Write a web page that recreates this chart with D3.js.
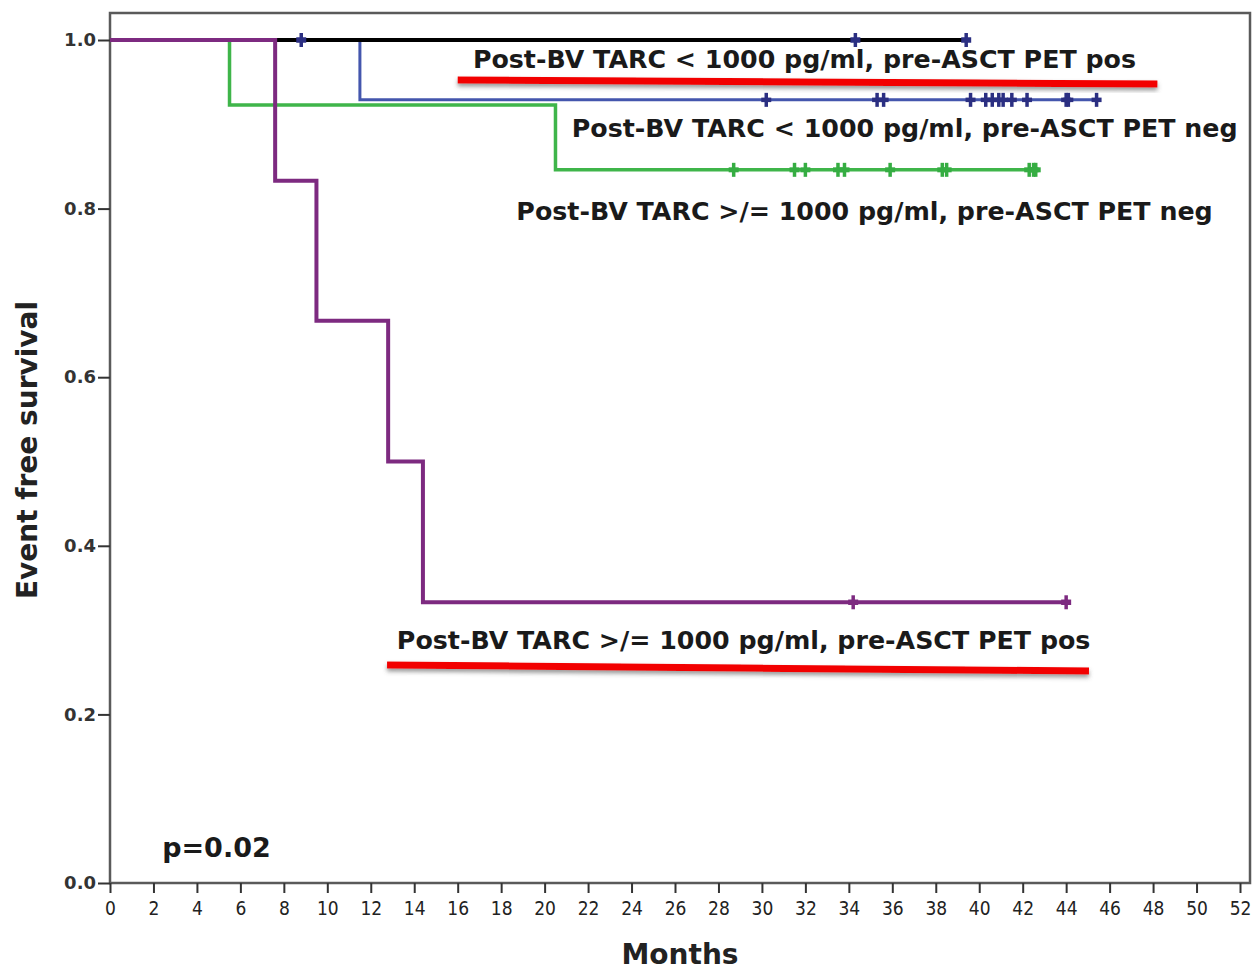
<!DOCTYPE html>
<html>
<head>
<meta charset="utf-8">
<script src="https://cdn.jsdelivr.net/npm/d3@7"></script>
<style>
  body { margin: 0; background: #fff; }
</style>
</head>
<body>
<div id="chart"></div>
<script>
// tick values
const xTickValues = [0, 2, 4, 6, 8, 10, 12, 14, 16, 18, 20, 22, 24, 26, 28, 30, 32, 34, 36, 38, 40, 42, 44, 46, 48, 50, 52];
const yTickValues = [0.0, 0.2, 0.4, 0.6, 0.8, 1.0];

// group labels
const groupLabels = [
  "Post-BV TARC < 1000 pg/ml, pre-ASCT PET pos",
  "Post-BV TARC < 1000 pg/ml, pre-ASCT PET neg",
  "Post-BV TARC >/= 1000 pg/ml, pre-ASCT PET neg",
  "Post-BV TARC >/= 1000 pg/ml, pre-ASCT PET pos"
];

// Kaplan-Meier steps (months, survival) and censored times
const lowPosTimes = [0];
const lowPosSurv = [1.0];
const lowPosCensor = [8.8, 34.3, 39.4];

const lowNegTimes = [0, 11.5];
const lowNegSurv = [1.0, 0.929];
const lowNegCensor = [30.2, 35.3, 35.6, 39.6, 40.3, 40.6, 40.9, 41.1, 41.5, 42.2, 44.0, 44.1, 45.4];

const highNegTimes = [0, 5.5, 20.5];
const highNegSurv = [1.0, 0.923, 0.846];
const highNegCensor = [28.7, 31.5, 32.0, 33.5, 33.8, 35.9, 38.3, 38.5, 42.3, 42.5, 42.6];

const highPosTimes = [0, 7.6, 9.5, 12.8, 14.4];
const highPosSurv = [1.0, 0.833, 0.667, 0.5, 0.333];
const highPosCensor = [34.2, 44.0];

// annotation anchors in data units (months, survival)
const labelAnchors = [[16.7, 0.967], [21.25, 0.885], [18.7, 0.786], [13.2, 0.277]];
const underlines = [[[16.0, 0.9526], [48.2, 0.9478]], [[12.75, 0.2586], [45.05, 0.2515]]];
const pValueText = "p=0.02";
const pValueAnchor = [2.4, 0.031];

let width = 1253, height = 970;
let margin = { top: 13, right: 3, bottom: 87, left: 110 };

let svg = d3.select("#chart")
    .append("svg")
    .attr("width", width)
    .attr("height", height)
    .style("font-family", "'DejaVu Sans', sans-serif");

let defs = svg.append("defs");
let shadow = defs.append("filter").attr("id", "shadow")
    .attr("x", "-5%").attr("y", "-200%").attr("width", "110%").attr("height", "500%");
shadow.append("feDropShadow")
    .attr("dx", 0).attr("dy", 3).attr("stdDeviation", 2)
    .attr("flood-color", "#555").attr("flood-opacity", 0.6);

let x = d3.scaleLinear().domain([0, 52]).range([110, 1240]);
let y = d3.scaleLinear().domain([0, 1]).range([883, 40]);

// frame
svg.append("rect")
    .attr("x", margin.left)
    .attr("y", margin.top)
    .attr("width", 1250 - margin.left)
    .attr("height", y(0) - margin.top)
    .attr("fill", "none")
    .attr("stroke", "#5a5a5a")
    .attr("stroke-width", 2.5);

// y axis
let yAxis = svg.append("g")
    .attr("transform", "translate(" + margin.left + ",0)")
    .call(d3.axisLeft(y).tickValues(yTickValues).tickFormat(d3.format(".1f")).tickSize(12).tickPadding(2));
yAxis.attr("font-size", 18).attr("font-family", "'DejaVu Sans', sans-serif").attr("font-weight", "bold");
yAxis.select(".domain").remove();
yAxis.selectAll("line").attr("stroke", "#333").attr("stroke-width", 2);
yAxis.selectAll("text")
    .attr("font-size", 18)
    .attr("font-weight", "bold")
    .attr("fill", "#333");

// x axis
let xAxis = svg.append("g")
    .attr("transform", "translate(0," + y(0) + ")")
    .call(d3.axisBottom(x).tickValues(xTickValues).tickSize(10).tickPadding(9));
xAxis.attr("font-size", 19).attr("font-family", "'DejaVu Sans Condensed', 'DejaVu Sans', sans-serif");
xAxis.select(".domain").remove();
xAxis.selectAll("line").attr("stroke", "#333").attr("stroke-width", 2);
xAxis.selectAll("text")
    .attr("font-size", 19)
    .attr("font-stretch", "condensed")
    .attr("fill", "#222");

// axis titles
svg.append("text")
    .attr("transform", "translate(37,450) rotate(-90)")
    .attr("text-anchor", "middle")
    .style("font-size", "28px")
    .style("font-weight", "bold")
    .attr("fill", "#222")
    .text("Event free survival");

svg.append("text")
    .attr("x", 680)
    .attr("y", 964)
    .attr("text-anchor", "middle")
    .style("font-size", "28px")
    .style("font-weight", "bold")
    .attr("fill", "#222")
    .text("Months");

// survival curves
let groups = [
  { times: lowNegTimes, surv: lowNegSurv, censor: lowNegCensor, color: "#4456ad", mark: "#2b2f82", w: 3 },
  { times: highNegTimes, surv: highNegSurv, censor: highNegCensor, color: "#3fb54a", mark: "#35ad42", w: 3.5 },
  { times: lowPosTimes, surv: lowPosSurv, censor: lowPosCensor, color: "#000000", mark: "#2b2f82", w: 4 },
  { times: highPosTimes, surv: highPosSurv, censor: highPosCensor, color: "#7d2a80", mark: "#7d2a80", w: 4 }
];

let stepLine = d3.line()
    .x(function (d) { return x(d[0]); })
    .y(function (d) { return y(d[1]); })
    .curve(d3.curveStepAfter);

function survAt(g, t) {
  let s = g.surv[0];
  g.times.forEach(function (tt, i) { if (tt <= t) s = g.surv[i]; });
  return s;
}

groups.forEach(function (g) {
  let pts = g.times.map(function (t, i) { return [t, g.surv[i]]; });
  let end = d3.max(g.censor);
  pts.push([end, survAt(g, end)]);

  svg.append("path")
      .datum(pts)
      .attr("d", stepLine)
      .attr("fill", "none")
      .attr("stroke", g.color)
      .attr("stroke-width", g.w);

  // censor marks drawn as small plus signs
  let marks = svg.append("g")
    .selectAll("g")
    .data(g.censor)
    .enter()
    .append("g")
      .attr("transform", function (d) { return "translate(" + x(d) + "," + y(survAt(g, d)) + ")"; });
  marks.append("line")
      .attr("y1", -7).attr("y2", 7)
      .attr("stroke", g.mark)
      .attr("stroke-width", 3.5);
  marks.append("line")
      .attr("x1", -5).attr("x2", 5)
      .attr("stroke", g.mark)
      .attr("stroke-width", g.w + 1.5);
});

// red underlines
svg.append("g")
  .selectAll("line")
  .data(underlines)
  .enter()
  .append("line")
    .attr("x1", function (d) { return x(d[0][0]); })
    .attr("y1", function (d) { return y(d[0][1]); })
    .attr("x2", function (d) { return x(d[1][0]); })
    .attr("y2", function (d) { return y(d[1][1]); })
    .attr("stroke", "#f20000")
    .attr("stroke-width", 7)
    .attr("filter", "url(#shadow)");

// group labels
svg.append("g")
  .selectAll("text")
  .data(groupLabels)
  .enter()
  .append("text")
    .attr("x", function (d, i) { return x(labelAnchors[i][0]); })
    .attr("y", function (d, i) { return y(labelAnchors[i][1]); })
    .style("font-size", "25.3px")
    .style("font-weight", "bold")
    .attr("fill", "#1a1a1a")
    .text(function (d) { return d; });

svg.append("text")
    .attr("x", x(pValueAnchor[0]))
    .attr("y", y(pValueAnchor[1]))
    .style("font-size", "27px")
    .style("font-weight", "bold")
    .attr("fill", "#1a1a1a")
    .text(pValueText);
</script>
</body>
</html>
